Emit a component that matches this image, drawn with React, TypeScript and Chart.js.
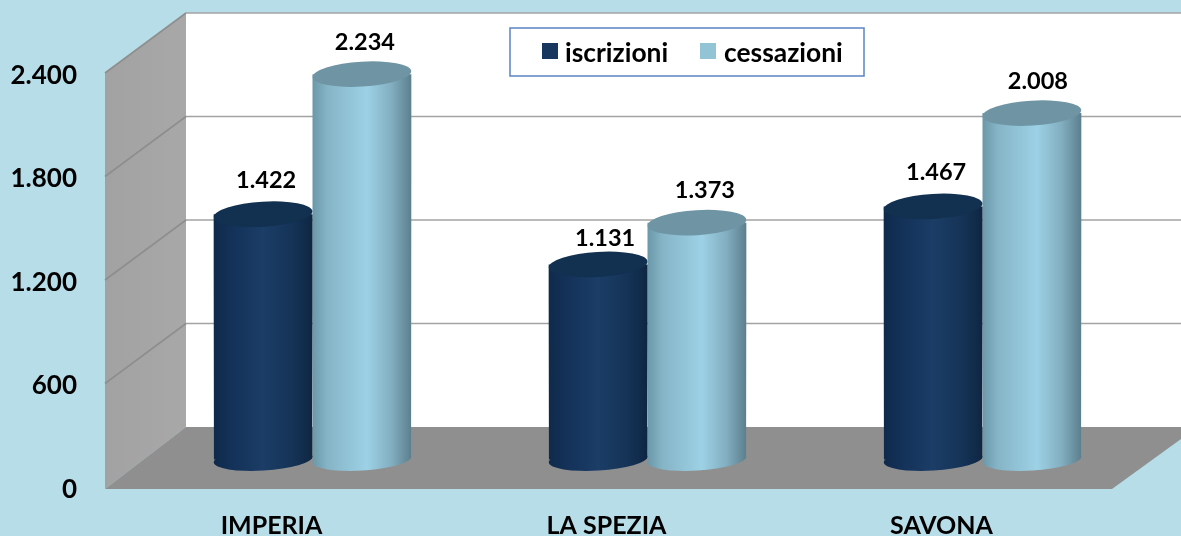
import React, { useEffect, useRef } from "react";
import { Chart, registerables } from "chart.js";

Chart.register(...registerables);

const categories = ["IMPERIA", "LA SPEZIA", "SAVONA"];
const iscrizioni = [1422, 1131, 1467];
const cessazioni = [2234, 1373, 2008];
const yTicks = [0, 600, 1200, 1800, 2400];
const seriesNames = ["iscrizioni", "cessazioni"];
// hand-placed label nudges (dx, dy) relative to the default spot above each cylinder
const labelNudgeX = [[3, 7, 3], [3, 8, 6]];
const labelNudgeY = [[-2, 6, -2], [0, 0, 0]];

const FONT = "Lato, Carlito, sans-serif";
const BG = "#b7dde8";
const WALL_DX = 81;
const WALL_DY = -60;
const BAR_DX = 40;
const BAR_DY = -27.5;
const ELL_B = 12.5;
const FOOT_B = 11;
const TILT = (-3.5 * Math.PI) / 180;

const fmt = (v: number) => String(v).replace(/\B(?=(\d{3})+$)/g, ".");

const ramps = [
  [[0, "#0f2a4a"], [0.2, "#14325a"], [0.5, "#1b3d66"], [0.8, "#153356"], [1, "#0e2643"]],
  [[0, "#6a98a9"], [0.15, "#85b4c6"], [0.55, "#9dd1e5"], [0.8, "#82aec0"], [1, "#5c7f8e"]],
] as [number, string][][];
const topColors = ["#12304f", "#6f95a5"];

function gradient(ctx: CanvasRenderingContext2D, ds: number, x0: number, x1: number) {
  const g = ctx.createLinearGradient(x0, 0, x1, 0);
  ramps[ds].forEach(([s, c]) => g.addColorStop(s, c));
  return g;
}

const scene3d = {
  id: "scene3d",
  beforeDatasetsDraw(chart: any) {
    const { ctx, chartArea: a, scales } = chart;
    const y = scales.y;
    const bottom = a.bottom;
    const top = a.top;
    ctx.save();
    // back wall
    ctx.fillStyle = "#ffffff";
    ctx.fillRect(a.left + WALL_DX, top + WALL_DY, 1181, bottom - top);
    // side wall
    const lg = ctx.createLinearGradient(a.left, 0, a.left + WALL_DX, 0);
    lg.addColorStop(0, "#a2a2a2");
    lg.addColorStop(1, "#a8a8a8");
    ctx.fillStyle = lg;
    ctx.beginPath();
    ctx.moveTo(a.left, top);
    ctx.lineTo(a.left + WALL_DX, top + WALL_DY);
    ctx.lineTo(a.left + WALL_DX, bottom + WALL_DY);
    ctx.lineTo(a.left, bottom + 2);
    ctx.closePath();
    ctx.fill();
    // grid lines
    ctx.lineWidth = 1.6;
    yTicks.forEach((t) => {
      const py = y.getPixelForValue(t);
      if (t > 0) {
        ctx.strokeStyle = "#a3a3a3";
        ctx.beginPath();
        ctx.moveTo(a.left + WALL_DX, py + WALL_DY);
        ctx.lineTo(1181, py + WALL_DY);
        ctx.stroke();
        ctx.strokeStyle = "#8e8e8e";
        ctx.beginPath();
        ctx.moveTo(a.left, py);
        ctx.lineTo(a.left + WALL_DX, py + WALL_DY);
        ctx.stroke();
      }
    });
    // floor
    ctx.fillStyle = "#8f8f8f";
    ctx.beginPath();
    ctx.moveTo(a.left, bottom + 2);
    ctx.lineTo(a.left + WALL_DX, bottom + WALL_DY);
    ctx.lineTo(1181, bottom + WALL_DY);
    ctx.lineTo(1181, bottom - 48);
    ctx.lineTo(a.right + 2, bottom + 2);
    ctx.closePath();
    ctx.fill();
    ctx.restore();
  },
  beforeDatasetDraw(chart: any, args: any) {
    const { ctx } = chart;
    const meta = chart.getDatasetMeta(args.index);
    ctx.save();
    ctx.translate(BAR_DX, BAR_DY);
    // rounded foot of each cylinder
    meta.data.forEach((el: any) => {
      const a = el.width / 2;
      ctx.fillStyle = gradient(ctx, args.index, el.x - a, el.x + a);
      ctx.beginPath();
      ctx.ellipse(el.x, el.base, a, FOOT_B, TILT, 0, Math.PI * 2);
      ctx.fill();
    });
    // keep the square bar corners from poking out of the foot
    ctx.beginPath();
    meta.data.forEach((el: any) => {
      const a = el.width / 2;
      ctx.moveTo(el.x + a * Math.cos(TILT), el.base + a * Math.sin(TILT));
      ctx.ellipse(el.x, el.base, a, FOOT_B, TILT, 0, Math.PI);
      ctx.lineTo(el.x - a - 1, el.y - 30);
      ctx.lineTo(el.x + a + 1, el.y - 30);
      ctx.closePath();
    });
    ctx.clip();
  },
  afterDatasetDraw(chart: any, args: any) {
    const { ctx } = chart;
    const meta = chart.getDatasetMeta(args.index);
    ctx.restore();
    ctx.save();
    ctx.translate(BAR_DX, BAR_DY);
    meta.data.forEach((el: any) => {
      ctx.fillStyle = topColors[args.index];
      ctx.beginPath();
      ctx.ellipse(el.x, el.y, el.width / 2, ELL_B, TILT, 0, Math.PI * 2);
      ctx.fill();
    });
    ctx.restore();
  },
  afterDraw(chart: any) {
    const { ctx } = chart;
    ctx.save();
    // value labels
    ctx.fillStyle = "#000";
    ctx.font = `bold 23.5px ${FONT}`;
    ctx.textAlign = "center";
    ctx.textBaseline = "middle";
    chart.data.datasets.forEach((d: any, i: number) => {
      chart.getDatasetMeta(i).data.forEach((el: any, j: number) => {
        ctx.fillText(
          fmt(d.data[j]),
          el.x + BAR_DX + labelNudgeX[i][j],
          el.y + BAR_DY - 32 + labelNudgeY[i][j]
        );
      });
    });
    // legend
    ctx.fillStyle = "#fff";
    ctx.strokeStyle = "#5a85c2";
    ctx.lineWidth = 1.5;
    ctx.fillRect(510, 28, 354, 48);
    ctx.strokeRect(510, 28, 354, 48);
    const sw = [542, 700];
    const tx = [565, 724];
    ctx.font = `bold 26.4px ${FONT}`;
    ctx.textAlign = "left";
    chart.data.datasets.forEach((d: any, i: number) => {
      ctx.fillStyle = i === 0 ? "#17375e" : "#93c4d6";
      ctx.fillRect(sw[i], 43, 16, 16);
      ctx.fillStyle = "#000";
      ctx.fillText(d.label, tx[i], 53);
    });
    ctx.restore();
  },
};

const barGradient = (ds: number) => (c: any) => {
  const { chart } = c;
  if (!chart.chartArea) return ramps[ds][2][1];
  const x = chart.scales.x;
  const band = (x.right - x.left) / categories.length;
  const w = (band * 0.59) / 2;
  const cx = x.getPixelForValue(c.dataIndex) + (ds === 0 ? -w / 2 : w / 2);
  return gradient(chart.ctx, ds, cx - w / 2, cx + w / 2);
};

export default function App() {
  const ref = useRef<HTMLCanvasElement | null>(null);
  useEffect(() => {
    if (!ref.current) return;
    const chart = new Chart(ref.current, {
      type: "bar",
      data: {
        labels: categories,
        datasets: [
          { label: seriesNames[0], data: iscrizioni, backgroundColor: barGradient(0) },
          { label: seriesNames[1], data: cessazioni, backgroundColor: barGradient(1) },
        ],
      },
      plugins: [scene3d],
      options: {
        responsive: false,
        animation: false,
        layout: { padding: { top: 73, right: 71, left: 0, bottom: 0 } },
        plugins: { legend: { display: false }, tooltip: { enabled: false } },
        datasets: { bar: { categoryPercentage: 0.59, barPercentage: 1, clip: false } },
        scales: {
          x: {
            grid: { display: false },
            border: { display: false },
            ticks: { color: "#000", font: { family: FONT, weight: "bold", size: 25 }, padding: 16, maxRotation: 0, labelOffset: -1 },
            afterFit: (s: any) => { s.height = 49; },
          },
          y: {
            min: 0,
            max: 2400,
            afterBuildTicks: (s: any) => { s.ticks = yTicks.map((value) => ({ value })); },
            grid: { display: false },
            border: { display: false },
            ticks: {
              color: "#000",
              font: { family: FONT, weight: "bold", size: 26 },
              padding: 20,
              labelOffset: 2.5,
              callback: (v: any) => fmt(Number(v)),
            },
            afterFit: (s: any) => { s.width = 105; },
          },
        },
      },
    } as any);
    return () => chart.destroy();
  }, []);
  return (
    <div style={{ position: "fixed", left: 0, top: 0, width: 1181, height: 536, background: BG, overflow: "hidden" }}>
      <canvas ref={ref} width={1181} height={536} style={{ display: "block" }} />
    </div>
  );
}
